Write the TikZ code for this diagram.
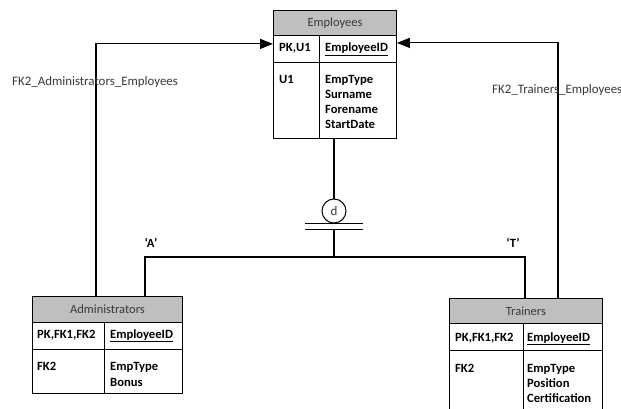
\documentclass[tikz,border=0pt]{standalone}
\usepackage{fontspec}
\setmainfont{Carlito}
\usetikzlibrary{arrows.meta}
\definecolor{hdrgray}{RGB}{191,191,191}
\definecolor{hdrtext}{RGB}{56,56,56}
\begin{document}
\begin{tikzpicture}[x=1pt,y=-1pt,
  every node/.style={font=\fontsize{12.5}{15}\selectfont},
  hdr/.style={draw=black, fill=hdrgray, text=hdrtext, anchor=north west, inner sep=0, line width=0.9pt},
  tbody/.style={draw=black, anchor=north west, inner sep=0, line width=0.9pt},
  fld/.style={anchor=base west, inner sep=0, font=\fontsize{12.6}{15}\selectfont\bfseries},
  lbl/.style={anchor=base west, inner sep=0, text=hdrtext, font=\fontsize{12.9}{15}\selectfont},
  sep/.style={line width=0.9pt},
  conn/.style={line width=1.2pt},
  fk/.style={conn, -{Triangle[length=13pt,width=10pt]}}
]
\useasboundingbox (0,0) rectangle (621,409);

% Employees
\node[hdr, minimum width=123pt, minimum height=25pt] (emph) at (273,10) {Employees};
\node[tbody, minimum width=123pt, minimum height=103pt] (empb) at (273,35) {};
\draw[sep] (273,62) -- (396,62);
\draw[sep] (319,35) -- (319,138);
\node[fld] (e1) at (279,52) {PK,U1};
\node[fld] (e2) at (325,52) {\underline{EmployeeID}};
\node[fld] (e3) at (279,84) {U1};
\node[fld] (e4) at (325,84) {EmpType};
\node[fld] (e5) at (325,99) {Surname};
\node[fld] (e6) at (325,114) {Forename};
\node[fld] (e7) at (325,129) {StartDate};

% Administrators
\node[hdr, minimum width=150pt, minimum height=26pt] (admh) at (32,296) {Administrators};
\node[tbody, minimum width=150pt, minimum height=71pt] (admb) at (32,322) {};
\draw[sep] (32,349) -- (182,349);
\draw[sep] (104,322) -- (104,393);
\node[fld] (a1) at (37,338) {PK,FK1,FK2};
\node[fld] (a2) at (110,338) {\underline{EmployeeID}};
\node[fld] (a3) at (37,370) {FK2};
\node[fld] (a4) at (110,370) {EmpType};
\node[fld] (a5) at (110,386) {Bonus};

% Trainers
\node[hdr, minimum width=153pt, minimum height=25pt] (trh) at (449,298) {Trainers};
\node[tbody, minimum width=153pt, minimum height=110pt] (trb) at (449,323) {};
\draw[sep] (449,350) -- (602,350);
\draw[sep] (523,323) -- (523,440);
\node[fld] (t1) at (455,341) {PK,FK1,FK2};
\node[fld] (t2) at (527,341) {\underline{EmployeeID}};
\node[fld] (t3) at (455,372) {FK2};
\node[fld] (t4) at (527,372) {EmpType};
\node[fld] (t5) at (527,387) {Position};
\node[fld] (t6) at (527,402) {Certification};

% Discriminator
\node[circle, draw, line width=1pt, minimum size=24pt, inner sep=0, text=hdrtext] (disc) at (334,211) {\fontsize{13}{15}\selectfont d};
\draw[conn] (disc |- empb.south) -- (disc.north);
\draw[conn] ([xshift=-29pt]disc.south) -- ([xshift=29pt]disc.south);
\draw[conn] ([xshift=-29pt,yshift=-6pt]disc.south) -- ([xshift=29pt,yshift=-6pt]disc.south);
\coordinate (junc) at (334,257);
\draw[conn] ([yshift=-6pt]disc.south) -- (junc);
\draw[conn] ([xshift=113pt]admh.north west) |- (junc) -| ([xshift=76pt]trh.north west);
\node[anchor=base, font=\fontsize{12.6}{15}\selectfont\bfseries] (la) at (151,247) {‘A’};
\node[anchor=base, font=\fontsize{12.6}{15}\selectfont\bfseries] (lt) at (513,247) {‘T’};

% Foreign keys
\draw[fk] ([xshift=64pt]admh.north west) |- ([yshift=-8pt]emph.south west);
\draw[fk] ([xshift=109pt]trh.north west) |- ([yshift=-7pt]emph.south east);
\node[lbl] (fka) at (12,86) {FK2\_Administrators\_Employees};
\node[lbl] (fkt) at (492,94) {FK2\_Trainers\_Employees};
\end{tikzpicture}
\end{document}
